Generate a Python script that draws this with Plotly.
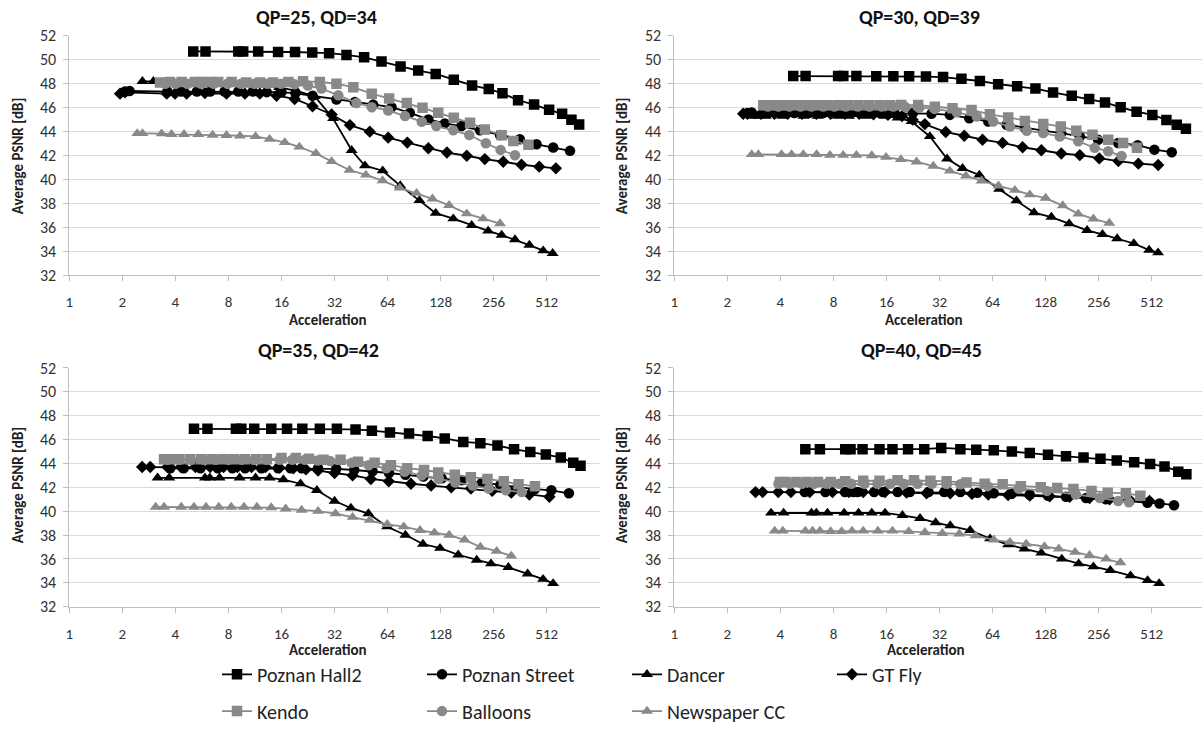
import math
import plotly.graph_objects as go

# ---------------- data ----------------
panel_titles = ["QP=25, QD=34", "QP=30, QD=39", "QP=35, QD=42", "QP=40, QD=45"]
series_names = ["Poznan Hall2", "Poznan Street", "Dancer", "GT Fly", "Kendo", "Balloons", "Newspaper CC"]
x_tick_vals = [1, 2, 4, 8, 16, 32, 64, 128, 256, 512]
x_tick_text = ["1", "2", "4", "8", "16", "32", "64", "128", "256", "512"]
y_tick_vals = [32, 34, 36, 38, 40, 42, 44, 46, 48, 50, 52]

# QP=25, QD=34
hall2_x_25 = [5.05, 5.93, 9.1, 9.7, 11.8, 15.3, 19.1, 23.9, 29.8, 37.4, 47.1, 59.1, 75.8, 95.5, 120, 152, 193, 240, 287, 352, 434, 528, 626, 707, 782]
hall2_y_25 = [50.7, 50.7, 50.7, 50.7, 50.7, 50.65, 50.65, 50.6, 50.55, 50.4, 50.2, 49.85, 49.43, 49.1, 48.82, 48.33, 47.86, 47.56, 47.2, 46.62, 46.26, 45.82, 45.49, 45.0, 44.6]
street_x_25 = [2.07, 2.2, 3.6, 4.3, 5.3, 6.3, 7.6, 9.1, 11, 13.2, 16, 19.2, 24, 32.8, 41.7, 53, 67.4, 85.6, 109, 135, 168, 214, 278, 360, 448, 557, 694]
street_y_25 = [47.35, 47.4, 47.35, 47.35, 47.35, 47.35, 47.35, 47.35, 47.35, 47.3, 47.3, 47.2, 47.0, 46.68, 46.48, 46.26, 46.04, 45.57, 45.02, 44.69, 44.47, 44.11, 43.72, 43.37, 42.95, 42.68, 42.4]
dancer_x_25 = [2.6, 3.0, 3.6, 4.5, 5.5, 6.8, 8.3, 10.2, 12.5, 15.5, 19.5, 24.7, 31.4, 40, 47.6, 60, 75.5, 97, 120, 151, 192, 238, 284, 338, 408, 489, 553]
dancer_y_25 = [48.2, 48.2, 48.1, 48.1, 48.1, 48.05, 48.0, 48.0, 47.9, 47.7, 47.4, 46.95, 45.1, 42.45, 41.16, 40.74, 39.5, 38.26, 37.2, 36.74, 36.19, 35.72, 35.37, 35.0, 34.54, 34.07, 33.85]
gtfly_x_25 = [1.94, 2.07, 3.57, 3.98, 4.63, 5.88, 7.8, 9.92, 12.05, 15.0, 19.0, 24, 30.8, 39.1, 50.7, 64.5, 82.8, 109, 139, 180, 228, 290, 368, 464, 577]
gtfly_y_25 = [47.17, 47.28, 47.17, 47.17, 47.17, 47.22, 47.17, 47.17, 47.17, 47.0, 46.73, 46.12, 45.43, 44.55, 44.0, 43.5, 43.09, 42.62, 42.26, 41.99, 41.71, 41.49, 41.24, 41.08, 40.94]
kendo_x_25 = [3.27, 3.72, 4.34, 5.16, 5.63, 6.28, 7.0, 8.34, 10.1, 12.1, 14.35, 17.5, 21.2, 26.4, 32.8, 40.9, 52, 65.3, 82.3, 101, 124, 152, 188, 228, 284, 331, 403]
kendo_y_25 = [48.1, 48.15, 48.15, 48.15, 48.15, 48.15, 48.15, 48.15, 48.1, 48.1, 48.1, 48.15, 48.2, 48.15, 48.0, 47.7, 47.17, 46.76, 46.4, 45.99, 45.57, 45.16, 44.74, 44.19, 43.7, 43.23, 42.9]
balloons_x_25 = [3.5, 4.0, 4.7, 5.6, 6.6, 7.9, 9.4, 11.2, 13.3, 15.9, 19, 22.6, 27, 33.6, 42.6, 52, 64.5, 80.4, 100, 121, 151, 186, 231, 280, 338]
balloons_y_25 = [48.0, 48.0, 48.0, 48.0, 48.0, 48.0, 48.0, 48.0, 48.0, 48.0, 47.95, 47.85, 47.6, 47.03, 46.4, 46.04, 45.77, 45.3, 44.83, 44.47, 44.11, 43.72, 43.03, 42.48, 42.04]
news_x_25 = [2.43, 2.6, 3.34, 3.8, 4.48, 5.39, 6.5, 7.8, 9.3, 11.4, 13.7, 16.7, 20.2, 25.1, 30.8, 38.9, 48.2, 59.9, 75, 93.4, 115, 143, 180, 223, 278]
news_y_25 = [43.85, 43.85, 43.83, 43.78, 43.78, 43.78, 43.72, 43.7, 43.64, 43.6, 43.37, 43.1, 42.73, 42.18, 41.52, 40.8, 40.39, 39.92, 39.31, 38.87, 38.4, 37.85, 37.16, 36.74, 36.33]

# QP=30, QD=39
hall2_x_30 = [4.73, 5.56, 8.5, 9.1, 10.8, 14.0, 17.5, 21.5, 26.8, 33.5, 42.6, 54.2, 68.8, 88.2, 112, 141, 180, 226, 278, 341, 420, 516, 620, 710, 800]
hall2_y_30 = [48.64, 48.64, 48.64, 48.64, 48.64, 48.62, 48.62, 48.62, 48.6, 48.56, 48.42, 48.23, 47.96, 47.79, 47.6, 47.27, 46.99, 46.72, 46.44, 46.03, 45.67, 45.4, 44.98, 44.57, 44.24]
street_x_30 = [2.6, 2.75, 3.4, 4.0, 4.8, 5.8, 7.0, 8.4, 10.1, 12.2, 14.7, 17.8, 22.6, 28.8, 36.6, 47.2, 60.5, 76.9, 97.8, 124, 157, 200, 254, 330, 426, 530, 665]
street_y_30 = [45.55, 45.6, 45.55, 45.55, 45.55, 45.55, 45.55, 45.55, 45.55, 45.55, 45.55, 45.55, 45.55, 45.5, 45.4, 45.12, 44.85, 44.57, 44.3, 44.08, 43.88, 43.6, 43.33, 43.06, 42.87, 42.5, 42.29]
dancer_x_30 = [2.75, 3.0, 3.3, 4.1, 5.4, 6.5, 8.5, 9.8, 12.3, 15.6, 18.5, 22.2, 28.2, 35.3, 43.2, 53.8, 69.7, 87.4, 110, 138, 174, 220, 269, 326, 405, 495, 556]
dancer_y_30 = [45.3, 45.3, 45.3, 45.3, 45.3, 45.3, 45.3, 45.3, 45.3, 45.3, 45.15, 44.85, 43.6, 41.74, 40.94, 40.39, 39.2, 38.24, 37.25, 36.87, 36.32, 35.77, 35.44, 35.08, 34.67, 34.12, 33.9]
gtfly_x_30 = [2.46, 2.6, 3.1, 3.7, 4.4, 5.3, 6.4, 7.7, 9.3, 11.2, 13.5, 16.3, 19.6, 22.5, 26.4, 34.7, 44.2, 56.1, 72.9, 94.7, 121, 157, 200, 258, 331, 430, 557]
gtfly_y_30 = [45.5, 45.5, 45.5, 45.5, 45.5, 45.5, 45.5, 45.5, 45.5, 45.5, 45.45, 45.4, 45.3, 45.0, 44.63, 43.97, 43.66, 43.33, 43.06, 42.7, 42.45, 42.18, 42.04, 41.77, 41.55, 41.33, 41.22]
kendo_x_30 = [3.2, 3.5, 3.9, 4.4, 5.0, 5.7, 6.5, 7.4, 8.5, 9.7, 11.1, 12.7, 14.6, 16.8, 19.4, 24.2, 30.1, 37.9, 48.6, 61.8, 78.5, 97.6, 124, 156, 191, 236, 290, 352, 422]
kendo_y_30 = [46.2, 46.2, 46.2, 46.2, 46.2, 46.2, 46.2, 46.2, 46.2, 46.2, 46.2, 46.2, 46.2, 46.2, 46.22, 46.22, 46.08, 45.95, 45.81, 45.45, 45.18, 44.9, 44.63, 44.43, 44.08, 43.75, 43.33, 43.06, 42.65]
balloons_x_30 = [3.4, 3.9, 4.5, 5.2, 6.0, 7.0, 8.1, 9.4, 11, 12.8, 15, 17.5, 20.5, 24.5, 30, 40, 52, 64.5, 80.4, 100, 124, 154, 196, 243, 290, 345]
balloons_y_30 = [46.1, 46.1, 46.1, 46.1, 46.1, 46.1, 46.1, 46.1, 46.1, 46.1, 46.1, 46.1, 46.05, 46.0, 45.9, 45.62, 45.26, 44.85, 44.43, 44.08, 43.88, 43.6, 43.2, 42.65, 42.37, 41.96]
news_x_30 = [2.75, 3.0, 4.06, 4.63, 5.39, 6.42, 7.64, 9.08, 10.8, 13.2, 15.9, 19.3, 23.7, 29.5, 36.6, 45.2, 55.4, 69.1, 85.6, 104, 128, 160, 196, 239, 294]
news_y_30 = [42.1, 42.1, 42.1, 42.1, 42.1, 42.1, 42.04, 42.04, 42.04, 42.01, 41.87, 41.68, 41.49, 41.13, 40.72, 40.31, 39.9, 39.48, 39.12, 38.74, 38.46, 37.83, 37.14, 36.73, 36.37]

# QP=35, QD=42
hall2_x_35 = [5.1, 6.08, 8.82, 9.47, 11.2, 14.0, 17.2, 21.0, 26.4, 33, 42.1, 52.1, 66, 84.7, 108, 135, 172, 215, 269, 334, 413, 506, 615, 724, 796]
hall2_y_35 = [46.9, 46.9, 46.9, 46.9, 46.9, 46.9, 46.9, 46.9, 46.9, 46.9, 46.85, 46.75, 46.6, 46.5, 46.3, 46.1, 45.8, 45.7, 45.5, 45.2, 44.95, 44.75, 44.5, 44.05, 43.8]
street_x_35 = [3.74, 4.46, 5.55, 6.96, 8.42, 9.94, 12.3, 15.3, 18.0, 20.8, 25.8, 32.7, 41.4, 52.6, 65.2, 80.8, 102, 130, 169, 220, 279, 350, 439, 544, 684]
street_y_35 = [43.6, 43.6, 43.6, 43.6, 43.6, 43.6, 43.6, 43.6, 43.6, 43.6, 43.6, 43.55, 43.45, 43.35, 43.2, 43.05, 42.9, 42.75, 42.6, 42.4, 42.2, 42.0, 41.85, 41.75, 41.5]
dancer_x_35 = [3.17, 3.69, 5.89, 6.27, 7.12, 9.26, 11.4, 13.7, 16.4, 20.5, 25.4, 32, 39.6, 49.8, 63.6, 80.8, 101.6, 127, 161, 205, 247, 310, 399, 488, 556]
dancer_y_35 = [42.8, 42.8, 42.8, 42.8, 42.8, 42.8, 42.8, 42.8, 42.65, 42.3, 41.75, 40.85, 40.27, 39.8, 38.7, 38.0, 37.25, 36.9, 36.35, 35.9, 35.6, 35.3, 34.75, 34.3, 33.95]
gtfly_x_35 = [2.59, 2.88, 3.6, 4.3, 5.2, 6.3, 7.5, 9.0, 10.8, 13, 15.6, 18.7, 22, 25.8, 32, 40.5, 51.4, 65, 86.8, 113, 147, 190, 251, 322, 408, 530]
gtfly_y_35 = [43.7, 43.7, 43.7, 43.7, 43.7, 43.7, 43.7, 43.7, 43.7, 43.7, 43.65, 43.6, 43.5, 43.4, 43.2, 43.0, 42.7, 42.5, 42.3, 42.15, 42.0, 41.9, 41.7, 41.55, 41.4, 41.2]
kendo_x_35 = [3.45, 3.74, 4.22, 4.86, 5.61, 6.47, 7.46, 8.61, 9.94, 11.5, 13.2, 16, 19.3, 22.9, 27.7, 34.6, 43.5, 54, 66.8, 82.7, 103, 124, 154, 190, 236, 292, 354, 439]
kendo_y_35 = [44.35, 44.35, 44.35, 44.35, 44.35, 44.35, 44.35, 44.35, 44.35, 44.35, 44.35, 44.45, 44.45, 44.4, 44.3, 44.3, 44.15, 44.05, 43.85, 43.6, 43.45, 43.25, 43.05, 42.85, 42.7, 42.5, 42.25, 42.1]
balloons_x_35 = [3.6, 4.2, 4.9, 5.8, 6.8, 8.0, 9.5, 11.2, 13.2, 15.6, 18.4, 21.7, 25.6, 30.2, 40, 50, 63, 80, 100, 125, 155, 195, 240, 300, 370]
balloons_y_35 = [44.3, 44.3, 44.3, 44.3, 44.3, 44.3, 44.3, 44.3, 44.3, 44.3, 44.3, 44.3, 44.25, 44.2, 44.05, 43.85, 43.6, 43.3, 43.0, 42.7, 42.4, 42.15, 41.9, 41.75, 41.6]
news_x_35 = [3.09, 3.45, 4.32, 5.1, 5.97, 7.05, 8.3, 9.8, 11.6, 14, 16.9, 20.8, 25.8, 32.4, 40.5, 50.7, 63.7, 79, 97.8, 118, 143, 175, 215, 266, 322]
news_y_35 = [40.35, 40.35, 40.35, 40.35, 40.35, 40.35, 40.35, 40.35, 40.35, 40.3, 40.2, 40.1, 40.0, 39.8, 39.5, 39.25, 38.9, 38.7, 38.4, 38.2, 38.0, 37.6, 37.0, 36.65, 36.25]

# QP=40, QD=45
hall2_x_40 = [5.54, 6.7, 9.33, 10.0, 11.7, 14.6, 17.3, 21.2, 26.2, 32.7, 42, 51.7, 65, 82.3, 104, 132, 167, 210, 262, 324, 407, 501, 605, 724, 805]
hall2_y_40 = [45.2, 45.2, 45.2, 45.2, 45.2, 45.2, 45.2, 45.2, 45.2, 45.3, 45.2, 45.15, 45.1, 45.0, 44.87, 44.72, 44.6, 44.5, 44.4, 44.25, 44.1, 43.95, 43.75, 43.3, 43.1]
street_x_40 = [5.5, 7.2, 9.3, 10.4, 11, 13.6, 15.3, 18.5, 21.7, 27.7, 34, 42, 52.5, 65, 82, 104, 132, 167, 217, 281, 383, 484, 567, 685]
street_y_40 = [41.6, 41.6, 41.6, 41.6, 41.6, 41.6, 41.6, 41.6, 41.6, 41.6, 41.6, 41.6, 41.55, 41.5, 41.45, 41.4, 41.3, 41.2, 41.1, 41.0, 40.85, 40.7, 40.65, 40.5]
dancer_x_40 = [3.54, 4.17, 6.0, 6.4, 7.4, 9.2, 11.1, 13.2, 15.7, 19.7, 24.8, 30.4, 36.8, 47.7, 61.9, 78.4, 97, 121, 158, 197, 239, 298, 388, 485, 564]
dancer_y_40 = [39.85, 39.85, 39.85, 39.85, 39.85, 39.85, 39.85, 39.85, 39.85, 39.65, 39.4, 39.05, 38.8, 38.4, 37.7, 37.2, 36.85, 36.5, 36.0, 35.6, 35.35, 35.05, 34.6, 34.2, 33.95]
gtfly_x_40 = [2.89, 3.17, 3.89, 4.59, 5.87, 7.9, 9.8, 11.8, 15.7, 20.8, 27, 36.8, 48.9, 60.5, 78.4, 104, 135, 175, 227, 295, 383, 497]
gtfly_y_40 = [41.6, 41.6, 41.6, 41.6, 41.6, 41.6, 41.6, 41.6, 41.6, 41.55, 41.5, 41.5, 41.45, 41.4, 41.35, 41.3, 41.25, 41.2, 41.1, 41.0, 40.95, 40.85]
kendo_x_40 = [3.98, 4.28, 4.93, 5.68, 6.54, 7.72, 9.33, 11.8, 14.6, 18.5, 22.9, 28.4, 35.1, 45.5, 57.7, 73, 92.6, 120, 149, 184, 233, 288, 365, 441]
kendo_y_40 = [42.45, 42.45, 42.45, 42.45, 42.45, 42.45, 42.5, 42.55, 42.55, 42.6, 42.6, 42.55, 42.5, 42.4, 42.3, 42.25, 42.1, 42.0, 41.95, 41.85, 41.7, 41.55, 41.5, 41.3]
balloons_x_40 = [3.9, 4.5, 5.3, 6.2, 7.3, 8.6, 10.1, 12, 14.2, 16.8, 20, 24, 29, 35, 42, 60, 90, 130, 190, 260, 330, 380]
balloons_y_40 = [42.3, 42.3, 42.3, 42.3, 42.3, 42.3, 42.3, 42.3, 42.3, 42.3, 42.3, 42.3, 42.3, 42.3, 42.25, 42.1, 41.9, 41.7, 41.4, 41.1, 40.85, 40.75]
news_x_40 = [3.71, 4.13, 5.54, 6.09, 6.7, 7.72, 8.9, 10.2, 11.8, 14.3, 17.3, 21.4, 26.4, 33.2, 41.4, 51.2, 65, 80.3, 99.3, 126, 152, 188, 227, 282, 340]
news_y_40 = [38.35, 38.35, 38.35, 38.35, 38.35, 38.3, 38.3, 38.35, 38.35, 38.35, 38.35, 38.3, 38.23, 38.15, 38.1, 37.95, 37.6, 37.4, 37.26, 37.04, 36.85, 36.57, 36.3, 36.0, 35.7]

panels = [
    [(hall2_x_25, hall2_y_25), (street_x_25, street_y_25), (dancer_x_25, dancer_y_25), (gtfly_x_25, gtfly_y_25),
     (kendo_x_25, kendo_y_25), (balloons_x_25, balloons_y_25), (news_x_25, news_y_25)],
    [(hall2_x_30, hall2_y_30), (street_x_30, street_y_30), (dancer_x_30, dancer_y_30), (gtfly_x_30, gtfly_y_30),
     (kendo_x_30, kendo_y_30), (balloons_x_30, balloons_y_30), (news_x_30, news_y_30)],
    [(hall2_x_35, hall2_y_35), (street_x_35, street_y_35), (dancer_x_35, dancer_y_35), (gtfly_x_35, gtfly_y_35),
     (kendo_x_35, kendo_y_35), (balloons_x_35, balloons_y_35), (news_x_35, news_y_35)],
    [(hall2_x_40, hall2_y_40), (street_x_40, street_y_40), (dancer_x_40, dancer_y_40), (gtfly_x_40, gtfly_y_40),
     (kendo_x_40, kendo_y_40), (balloons_x_40, balloons_y_40), (news_x_40, news_y_40)],
]

# ---------------- styling ----------------
W, H = 1202, 731
FONT = "Carlito, Lato, 'Open Sans', sans-serif"
BLACK = "#000000"
GRAY = "#898989"
styles = [
    dict(color=BLACK, symbol="square", size=10.5),
    dict(color=BLACK, symbol="circle", size=10.5),
    dict(color=BLACK, symbol="triangle-up", size=10.5),
    dict(color=BLACK, symbol="diamond", size=9.5),
    dict(color=GRAY, symbol="square", size=10.5),
    dict(color=GRAY, symbol="circle", size=10.5),
    dict(color=GRAY, symbol="triangle-up", size=10.5),
]

def px_x(p):
    return p / W

def px_y(p):
    return 1 - p / H

# plot-area pixel boxes: (left, right, top, bottom); value 1 at left edge, 53.05 px per octave
OCT = 53.05
boxes = [(69.3, 600.0, 36.0, 277.0), (674.3, 1202.0, 36.0, 277.0),
         (69.3, 600.0, 370.0, 610.0), (674.3, 1202.0, 370.0, 610.0)]

fig = go.Figure()
for i, panel in enumerate(panels):
    xa = "x" if i == 0 else f"x{i+1}"
    ya = "y" if i == 0 else f"y{i+1}"
    for j, (xs, ys) in enumerate(panel):
        st = styles[j]
        fig.add_trace(go.Scatter(
            x=xs, y=ys, mode="lines+markers", name=series_names[j],
            xaxis=xa, yaxis=ya,
            line=dict(color=st["color"], width=1.8),
            marker=dict(color=st["color"], symbol=st["symbol"], size=st["size"], line=dict(width=0)),
            showlegend=(i == 0),
            legend="legend" if j < 4 else "legend2",
            hoverinfo="skip",
        ))

legend_common = dict(orientation="h", xanchor="left", yanchor="middle",
                     font=dict(family=FONT, size=20, color="#222222"), entrywidth=160, entrywidthmode="pixels",
                     bgcolor="rgba(0,0,0,0)", borderwidth=0, traceorder="normal")

layout = dict(
    width=W, height=H,
    margin=dict(l=0, r=0, t=0, b=0),
    paper_bgcolor="white", plot_bgcolor="white",
    font=dict(family=FONT, color="#333333"),
    showlegend=True,
    legend=dict(x=px_x(217), y=px_y(678), **legend_common),
    legend2=dict(x=px_x(217), y=px_y(715), **legend_common),
)

for i, (l, r, t, b) in enumerate(boxes):
    xk = "xaxis" if i == 0 else f"xaxis{i+1}"
    yk = "yaxis" if i == 0 else f"yaxis{i+1}"
    ya = "y" if i == 0 else f"y{i+1}"
    xa = "x" if i == 0 else f"x{i+1}"
    xmax = (r - l) / OCT * math.log10(2)
    layout[xk] = dict(
        type="log", range=[0, xmax], domain=[px_x(l), px_x(r)], anchor=ya,
        tickmode="array", tickvals=x_tick_vals, ticktext=x_tick_text,
        showgrid=False, zeroline=False, showline=True, linecolor="#bfbfbf", linewidth=1,
        ticks="outside", ticklen=5, tickcolor="#bfbfbf", tickwidth=1,
        tickfont=dict(family=FONT, size=15, color="#333333"), ticklabelstandoff=8,
        automargin=False, fixedrange=True,
    )
    layout[yk] = dict(
        range=[32, 52], domain=[px_y(b), px_y(t)], anchor=xa,
        tickmode="array", tickvals=y_tick_vals,
        showgrid=True, gridcolor="#d9d9d9", gridwidth=1, zeroline=False,
        showline=True, linecolor="#bfbfbf", linewidth=1,
        ticks="outside", ticklen=5, tickcolor="#bfbfbf", tickwidth=1,
        tickfont=dict(family=FONT, size=16, color="#333333"), ticklabelstandoff=4,
        automargin=False, fixedrange=True,
    )

fig.update_layout(**layout)

# titles and axis titles
title_pos = [(316, 17), (919, 17), (318, 352), (921, 352)]
xlab_pos = [(328, 322), (924, 322), (328, 654), (926, 654)]
ylab_pos = [(18, 157), (622, 157), (18, 488), (622, 488)]
for i in range(4):
    tx, ty = title_pos[i]
    fig.add_annotation(x=px_x(tx), y=px_y(ty), xref="paper", yref="paper", showarrow=False,
                       text=f"<b>{panel_titles[i]}</b>", font=dict(family=FONT, size=20, color="#111111"),
                       xanchor="center", yanchor="middle")
    ax_, ay_ = xlab_pos[i]
    fig.add_annotation(x=px_x(ax_), y=px_y(ay_), xref="paper", yref="paper", showarrow=False,
                       text="<b>Acceleration</b>", font=dict(family=FONT, size=15, color="#222222"),
                       xanchor="center", yanchor="middle")
    lx, ly = ylab_pos[i]
    fig.add_annotation(x=px_x(lx), y=px_y(ly), xref="paper", yref="paper", showarrow=False,
                       text="<b>Average PSNR [dB]</b>", textangle=-90,
                       font=dict(family=FONT, size=15, color="#222222"),
                       xanchor="center", yanchor="middle")

fig.write_html("out.html")
